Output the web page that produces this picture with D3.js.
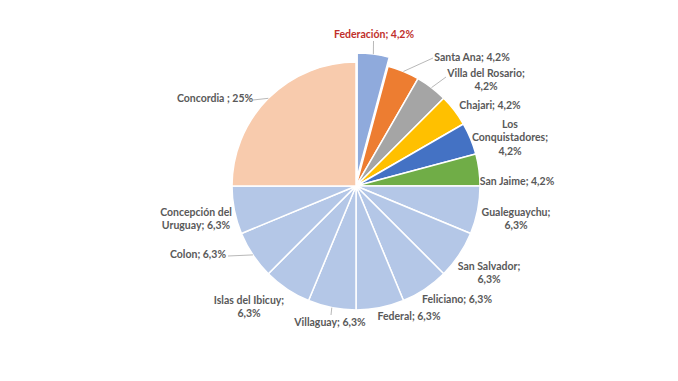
<!DOCTYPE html>
<html>
<head>
<meta charset="utf-8">
<script src="https://cdn.jsdelivr.net/npm/d3@7"></script>
<style>
  html, body { margin: 0; padding: 0; background: #ffffff; }
  svg { display: block; }
</style>
</head>
<body>
<svg id="chart" width="678" height="381"></svg>
<script>
// ---- data ----
const categories = ["Federación", "Santa Ana", "Villa del Rosario", "Chajari", "Los Conquistadores", "San Jaime",
  "Gualeguaychu", "San Salvador", "Feliciano", "Federal", "Villaguay", "Islas del Ibicuy", "Colon",
  "Concepción del Uruguay", "Concordia"];
// relative weights (count out of 48) -> 4,2% / 6,3% / 25%
const weights = [2, 2, 2, 2, 2, 2, 3, 3, 3, 3, 3, 3, 3, 3, 12];
const percentLabels = ["4,2%", "4,2%", "4,2%", "4,2%", "4,2%", "4,2%",
  "6,3%", "6,3%", "6,3%", "6,3%", "6,3%", "6,3%", "6,3%", "6,3%", "25%"];

// ---- styling / layout (not data) ----
const colors = ["#8FAADC", "#ED7D31", "#A5A5A5", "#FFC000", "#4472C4", "#70AD47",
  "#B4C7E7", "#B4C7E7", "#B4C7E7", "#B4C7E7", "#B4C7E7", "#B4C7E7", "#B4C7E7", "#B4C7E7", "#F8CBAD"];
const cx = 356, cy = 186, R = 124;
const explode = [9, 0, 0, 0, 0, 0, 0, 0, 0, 0, 0, 0, 0, 0, 0];
// label lines and anchor centres
const labelLayout = [
  { lines: ["Federación; 4,2%"], x: 374, y: 34, color: "#C0302B", leader: [373.5, 41] },
  { lines: ["Santa Ana; 4,2%"], x: 472, y: 57, leader: [433, 58] },
  { lines: ["Villa del Rosario;", "4,2%"], x: 486, y: 73, leader: [446, 77] },
  { lines: ["Chajari; 4,2%"], x: 490, y: 105 },
  { lines: ["Los", "Conquistadores;", "4,2%"], x: 510, y: 124 },
  { lines: ["San Jaime; 4,2%"], x: 517, y: 181 },
  { lines: ["Gualeguaychu;", "6,3%"], x: 516, y: 212 },
  { lines: ["San Salvador;", "6,3%"], x: 489, y: 266 },
  { lines: ["Feliciano; 6,3%"], x: 457, y: 299 },
  { lines: ["Federal; 6,3%"], x: 409, y: 316 },
  { lines: ["Villaguay; 6,3%"], x: 330, y: 322, leader: [331, 315] },
  { lines: ["Islas del Ibicuy;", "6,3%"], x: 249, y: 300 },
  { lines: ["Colon; 6,3%"], x: 198, y: 254, leader: [228, 256] },
  { lines: ["Concepción del", "Uruguay; 6,3%"], x: 196, y: 212 },
  { lines: ["Concordia ; 25%"], x: 215, y: 98, leader: [253, 100] }
];
const lineH = 13.5;

const svg = d3.select("#chart");
const data = categories.map((c, i) => ({ name: c, value: weights[i], pct: percentLabels[i], i }));

const pie = d3.pie().sort(null).value(d => d.value).startAngle(0).endAngle(2 * Math.PI);
const arcs = pie(data);
const arc = d3.arc().innerRadius(0).outerRadius(R);
const edgeArc = d3.arc().innerRadius(R).outerRadius(R);

const g = svg.append("g").attr("transform", `translate(${cx},${cy})`);

function offset(d) {
  const a = (d.startAngle + d.endAngle) / 2;
  const e = explode[d.index];
  return [e * Math.sin(a), -e * Math.cos(a)];
}

g.selectAll("path.slice")
  .data(arcs)
  .join("path")
  .attr("class", "slice")
  .attr("d", arc)
  .attr("transform", d => { const o = offset(d); return `translate(${o[0]},${o[1]})`; })
  .attr("fill", d => colors[d.index])
  .attr("stroke", "#ffffff")
  .attr("stroke-width", 1.5)
  .attr("stroke-linejoin", "round");

// leader lines
arcs.forEach(d => {
  const L = labelLayout[d.index];
  if (!L.leader) return;
  const o = offset(d);
  const p = edgeArc.centroid(d);
  svg.append("line")
    .attr("x1", cx + p[0] + o[0]).attr("y1", cy + p[1] + o[1])
    .attr("x2", L.leader[0]).attr("y2", L.leader[1])
    .attr("stroke", "#A6A6A6").attr("stroke-width", 0.8);
});

// labels
arcs.forEach(d => {
  const L = labelLayout[d.index];
  const t = svg.append("text")
    .attr("text-anchor", "middle")
    .attr("font-family", "Lato, 'Open Sans', sans-serif")
    .attr("font-weight", "bold")
    .attr("font-size", "10.5px")
    .attr("fill", L.color || "#595959");
  L.lines.forEach((ln, k) => {
    t.append("tspan")
      .attr("x", L.x)
      .attr("y", L.y + k * lineH)
      .attr("dy", "0.35em")
      .text(ln);
  });
});
</script>
</body>
</html>
